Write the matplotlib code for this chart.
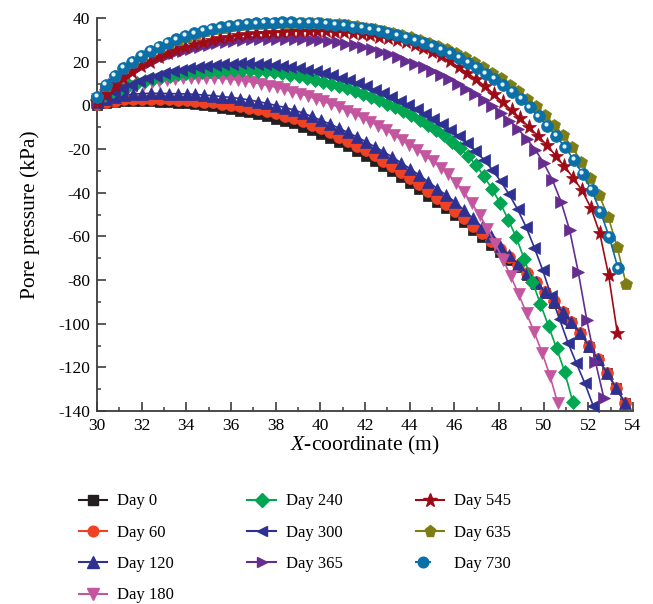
"""
Pore pressure along the X-coordinate for several days after construction.
"""

import numpy as np
import matplotlib
matplotlib.use('Agg')
import matplotlib.pyplot as plt
from matplotlib.lines import Line2D
from matplotlib.legend_handler import HandlerTuple
from matplotlib.ticker import MultipleLocator

plt.rcParams['font.family'] = ['Liberation Serif', 'DejaVu Serif']
plt.rcParams['mathtext.fontset'] = 'custom'
plt.rcParams['mathtext.rm'] = 'Liberation Serif'
plt.rcParams['mathtext.it'] = 'Liberation Serif:italic'
plt.rcParams['axes.unicode_minus'] = False

LABELS = ['Day 0', 'Day 60', 'Day 120', 'Day 180', 'Day 240',
          'Day 300', 'Day 365', 'Day 545', 'Day 635', 'Day 730']

# every profile has 60 evenly spaced nodes from x = 30 m to its last node
X_START = 30.0
X_END = [53.65, 53.65, 53.65, 50.63, 51.3, 52.22, 52.7, 53.3, 53.69, 53.33]

# pore pressure (kPa) at the nodes
DAY0 = [0.3, 1.1, 1.5, 1.8, 1.9, 1.9, 1.8, 1.6, 1.3, 1.1,
        0.9, 0.5, 0.0, -0.5, -1.1, -1.7, -2.4, -3.2, -4.1, -5.1,
        -6.2, -7.2, -8.3, -9.8, -11.4, -13.1, -14.9, -16.8, -18.8, -20.9,
        -23.1, -25.4, -27.7, -30.2, -32.8, -35.6, -38.4, -41.4, -44.4, -47.2,
        -50.3, -53.6, -56.9, -60.3, -63.8, -67.3, -70.7, -74.2, -77.9, -81.8,
        -85.9, -90.3, -94.9, -99.7, -104.6, -110.5, -116.5, -122.7, -129.5, -136.5]
DAY60 = [0.5, 1.5, 2.2, 2.7, 3.0, 3.1, 3.1, 3.0, 2.8, 2.6,
         2.4, 2.1, 1.7, 1.3, 0.8, 0.3, -0.3, -1.0, -1.8, -2.7,
         -3.7, -4.7, -5.8, -7.3, -8.9, -10.6, -12.4, -14.3, -16.3, -18.4,
         -20.6, -22.9, -25.3, -27.8, -30.5, -33.3, -36.2, -39.2, -42.3, -45.2,
         -48.3, -51.7, -55.1, -58.6, -62.2, -65.8, -69.4, -73.1, -77.0, -81.0,
         -85.3, -89.8, -94.5, -99.4, -104.4, -110.4, -116.4, -122.7, -129.5, -136.5]
DAY120 = [1.3, 2.7, 3.8, 4.6, 5.1, 5.4, 5.5, 5.5, 5.4, 5.3,
          5.2, 5.0, 4.7, 4.4, 4.0, 3.6, 3.1, 2.5, 1.7, 0.9,
          -0.1, -1.0, -2.1, -3.5, -5.1, -6.8, -8.5, -10.4, -12.4, -14.4,
          -16.6, -18.9, -21.2, -23.7, -26.4, -29.1, -32.0, -35.0, -38.1, -41.1,
          -44.3, -48.0, -51.8, -55.8, -60.0, -64.2, -68.4, -72.6, -76.8, -81.0,
          -85.3, -89.8, -94.5, -99.4, -104.4, -110.4, -116.4, -122.7, -129.5, -136.5]
DAY180 = [3.0, 4.7, 6.0, 7.1, 8.1, 9.0, 9.8, 10.5, 11.1, 11.6,
          12.0, 12.3, 12.5, 12.6, 12.6, 12.5, 12.3, 12.0, 11.6, 11.1,
          10.5, 9.8, 9.0, 8.2, 7.3, 6.3, 5.3, 4.2, 3.0, 1.8,
          0.5, -0.9, -2.4, -4.0, -5.7, -7.5, -9.4, -11.4, -13.5, -15.7,
          -18.0, -20.4, -23.0, -25.7, -28.5, -31.5, -35.5, -39.8, -44.9, -50.2,
          -56.5, -63.3, -70.8, -78.3, -86.6, -95.2, -104.0, -113.3, -123.8, -136.5]
DAY240 = [3.0, 4.9, 6.5, 7.9, 9.1, 10.2, 11.2, 12.1, 12.9, 13.6,
          14.2, 14.7, 15.1, 15.4, 15.7, 15.9, 16.0, 16.1, 16.1, 16.0,
          15.8, 15.5, 15.1, 14.6, 14.0, 13.3, 12.6, 11.8, 10.9, 9.9,
          8.9, 7.8, 6.6, 5.3, 3.9, 2.4, 0.8, -0.9, -2.7, -4.6,
          -6.6, -8.8, -11.2, -13.8, -16.6, -19.6, -23.0, -27.3, -32.5, -38.3,
          -44.8, -52.3, -60.5, -70.5, -80.8, -91.0, -101.1, -111.3, -122.0, -135.8]
DAY300 = [2.0, 4.1, 6.0, 7.8, 9.5, 11.0, 12.4, 13.6, 14.7, 15.6,
          16.4, 17.1, 17.7, 18.2, 18.6, 18.9, 19.1, 19.2, 19.2, 19.1,
          18.9, 18.6, 18.2, 17.7, 17.1, 16.4, 15.6, 14.7, 13.7, 12.6,
          11.4, 10.1, 8.7, 7.2, 5.6, 3.9, 2.1, 0.2, -1.8, -3.9,
          -6.1, -8.5, -11.1, -14.0, -17.2, -20.8, -24.9, -29.5, -34.8, -40.8,
          -47.6, -55.6, -65.2, -75.6, -87.3, -98.0, -108.8, -118.2, -127.3, -137.7]
DAY365 = [2.0, 6.3, 9.8, 12.7, 15.2, 17.4, 19.3, 21.0, 22.5, 23.8,
          25.0, 26.0, 26.9, 27.7, 28.4, 29.0, 29.5, 29.9, 30.2, 30.5,
          30.6, 30.6, 30.6, 30.5, 30.3, 30.1, 29.8, 29.4, 28.9, 28.3,
          27.6, 26.8, 25.8, 24.6, 23.4, 22.1, 20.5, 19.0, 17.4, 15.7,
          13.9, 11.9, 9.8, 7.5, 5.1, 2.5, -0.4, -3.5, -7.0, -10.9,
          -15.3, -20.3, -26.5, -34.2, -44.1, -57.1, -76.2, -98.3, -117.4, -134.2]
DAY545 = [1.5, 5.2, 9.0, 12.5, 15.3, 17.8, 20.0, 22.0, 23.8, 25.4,
          26.8, 28.0, 29.1, 30.0, 30.8, 31.5, 32.1, 32.6, 33.0, 33.3,
          33.6, 33.8, 33.9, 34.0, 34.0, 34.0, 33.9, 33.7, 33.5, 33.2,
          32.8, 32.2, 31.5, 30.7, 29.8, 28.8, 27.6, 26.2, 24.5, 22.5,
          20.2, 17.5, 14.8, 11.9, 8.7, 5.1, 1.4, -2.2, -6.0, -10.1,
          -14.0, -18.2, -23.0, -28.0, -33.2, -39.0, -47.0, -58.5, -77.7, -104.4]
DAY635 = [3.8, 9.0, 13.3, 16.9, 19.8, 22.4, 24.7, 26.7, 28.5, 30.0,
          31.5, 32.8, 33.9, 34.8, 35.6, 36.2, 36.7, 37.1, 37.4, 37.6,
          37.8, 37.9, 37.9, 37.9, 37.8, 37.6, 37.4, 37.1, 36.7, 36.2,
          35.6, 34.9, 34.1, 33.2, 32.2, 31.1, 29.9, 28.6, 27.2, 25.7,
          24.1, 22.0, 19.8, 17.4, 14.9, 12.3, 9.5, 6.4, 3.1, -0.5,
          -4.6, -9.0, -13.8, -19.2, -25.8, -33.5, -41.2, -51.0, -64.8, -81.8]
DAY730 = [4.0, 9.3, 13.6, 17.2, 20.0, 22.6, 24.9, 26.9, 28.7, 30.2,
          31.7, 33.0, 34.1, 35.0, 35.7, 36.3, 36.8, 37.2, 37.5, 37.7,
          37.9, 38.0, 38.0, 37.9, 37.8, 37.6, 37.3, 37.0, 36.6, 36.1,
          35.5, 34.8, 34.0, 33.1, 32.1, 31.0, 29.8, 28.5, 27.0, 25.4,
          23.8, 21.6, 19.4, 17.0, 14.5, 12.0, 9.2, 6.1, 2.8, -0.9,
          -5.0, -9.5, -14.1, -19.2, -25.0, -31.5, -38.8, -48.7, -60.2, -74.7]

SERIES = [DAY0, DAY60, DAY120, DAY180, DAY240, DAY300, DAY365, DAY545, DAY635, DAY730]

COLORS = ['#231f20', '#ef4123', '#2e3192', '#c4569f', '#00a651',
          '#2e3192', '#662d91', '#9e0b16', '#7d7d14', '#0b6fa8']
MARKERS = ['s', 'o', '^', 'v', 'D', '<', '>', '*', 'p', 'o']
MSIZES = [7.5, 8.5, 9, 9, 7.5, 8.5, 8.5, 11, 9, 8.5]

fig = plt.figure(figsize=(6.53, 6.04), dpi=100)
ax = fig.add_axes([0.1485, 0.3195, 0.8209, 0.6507])

handles = []
for i, (y, xe) in enumerate(zip(SERIES, X_END)):
    x = np.linspace(X_START, xe, len(y))
    c = COLORS[i]
    ax.plot(x, y, color=c, lw=1.2, marker=MARKERS[i], ms=MSIZES[i],
            mec=c, mfc=c, mew=0.5, zorder=2 + i, clip_on=False)
    h = Line2D([], [], color=c, lw=1.5, marker=MARKERS[i], ms=MSIZES[i] * 0.9,
               mec=c, mfc=c)
    if i == len(SERIES) - 1:
        # glossy highlight on the last profile's circles
        ax.plot(x - 0.06, np.array(y) + 0.8, ls='none', marker='o', ms=3,
                mfc='#e4f2fb', mec='none', zorder=3 + i, clip_on=False)
        h = (h, Line2D([], [], ls='none', marker='o', ms=2.8, mfc='white', mec='none'))
    handles.append(h)

ax.set_xlim(30, 54)
ax.set_ylim(-140, 40)
ax.xaxis.set_major_locator(MultipleLocator(2))
ax.xaxis.set_minor_locator(MultipleLocator(1))
ax.yaxis.set_major_locator(MultipleLocator(20))
ax.yaxis.set_minor_locator(MultipleLocator(10))

for side in ('top', 'right'):
    ax.spines[side].set_visible(False)
for side in ('left', 'bottom'):
    ax.spines[side].set_color('#3c3c3c')
    ax.spines[side].set_linewidth(1.3)

ax.tick_params(which='major', direction='in', length=6.5, width=1.2,
               color='#3c3c3c', labelsize=12.5, pad=5)
ax.tick_params(which='minor', direction='in', length=3.2, width=1.1, color='#3c3c3c')

ax.set_xlabel(r'$X$-coordinate (m)', fontsize=15.5, labelpad=0)
ax.set_ylabel('Pore pressure (kPa)', fontsize=15.5, labelpad=13)

fig.legend(handles, LABELS, ncol=3, loc='upper left', bbox_to_anchor=(0.108, 0.197),
           frameon=False, borderpad=0, handlelength=1.7, handletextpad=0.6,
           columnspacing=4.4, labelspacing=0.92, fontsize=12,
           handler_map={tuple: HandlerTuple(ndivide=None)})

fig.savefig('out.png', dpi=100)
